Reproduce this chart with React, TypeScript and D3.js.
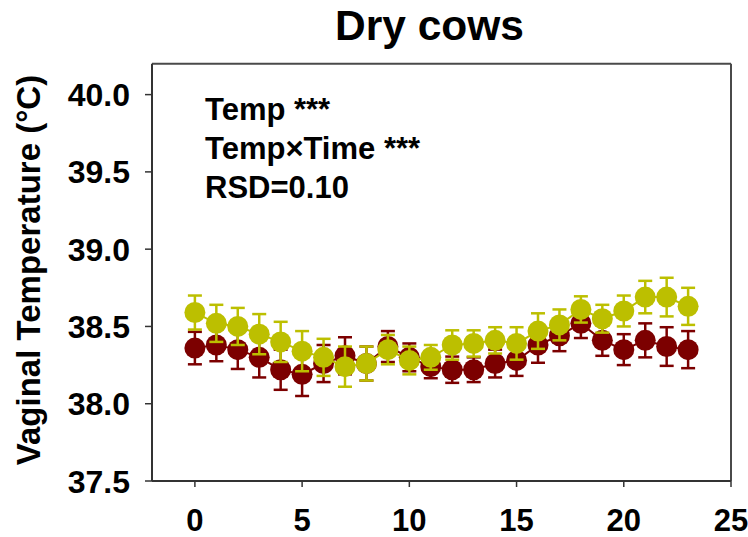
import React from "react";
import * as d3 from "d3";

// Hour of day
const hours = d3.range(0, 24);

// Vaginal temperature means (°C) and standard errors per hour
const hotMeans = [38.59, 38.52, 38.50, 38.45, 38.40, 38.34, 38.30, 38.24, 38.26, 38.35, 38.28, 38.30,
  38.38, 38.39, 38.41, 38.39, 38.47, 38.51, 38.61, 38.55, 38.60, 38.69, 38.69, 38.63];
const hotSE = [0.11, 0.12, 0.12, 0.13, 0.13, 0.13, 0.12, 0.13, 0.11, 0.095, 0.09, 0.08,
  0.095, 0.085, 0.085, 0.105, 0.115, 0.1, 0.085, 0.09, 0.1, 0.105, 0.125, 0.12];

const coolMeans = [38.36, 38.38, 38.35, 38.30, 38.22, 38.19, 38.26, 38.31, 38.26, 38.37, 38.30, 38.24,
  38.22, 38.22, 38.26, 38.28, 38.38, 38.44, 38.52, 38.41, 38.35, 38.41, 38.37, 38.35];
const coolSE = [0.105, 0.105, 0.125, 0.13, 0.13, 0.14, 0.12, 0.12, 0.11, 0.1, 0.09, 0.075,
  0.085, 0.08, 0.09, 0.1, 0.115, 0.1, 0.095, 0.1, 0.1, 0.11, 0.125, 0.12];

const xTicks = [0, 5, 10, 15, 20, 25];
const yTicks = [37.5, 38.0, 38.5, 39.0, 39.5, 40.0];
const statLines = ["Temp ***", "Temp×Time ***", "RSD=0.10"];

const W = 748;
const H = 537;
const FONT = "'Liberation Sans', Arial, Helvetica, sans-serif";

const x = d3.scaleLinear().domain([-2, 25]).range([152, 731]);
const y = d3.scaleLinear().domain([37.5, 40.2]).range([481, 63.7]);

type SeriesProps = { means: number[]; se: number[]; color: string };

function Series({ means, se, color }: SeriesProps) {
  const pts = hours.map((h, i) => ({ h, m: means[i], e: se[i] }));
  const line = d3
    .line<{ h: number; m: number }>()
    .x((d) => x(d.h))
    .y((d) => y(d.m));
  const cap = 7;
  return (
    <g>
      <path d={line(pts) ?? ""} fill="none" stroke={color} strokeWidth={2} />
      {pts.map((d) => {
        const cx = x(d.h);
        const top = y(d.m + d.e);
        const bot = y(d.m - d.e);
        return (
          <g key={d.h} stroke={color} strokeWidth={2.5}>
            <line x1={cx} x2={cx} y1={top} y2={bot} />
            <line x1={cx - cap} x2={cx + cap} y1={top} y2={top} />
            <line x1={cx - cap} x2={cx + cap} y1={bot} y2={bot} />
          </g>
        );
      })}
      {pts.map((d) => (
        <circle key={d.h} cx={x(d.h)} cy={y(d.m)} r={10.5} fill={color} />
      ))}
    </g>
  );
}

export default function App() {
  const [x0, x1] = x.range();
  const [yb, yt] = y.range();
  return (
    <svg
      width={W}
      height={H}
      viewBox={`0 0 ${W} ${H}`}
      style={{ position: "absolute", left: 0, top: 0, background: "#fff" }}
      fontFamily={FONT}
      fontWeight="bold"
    >
      <rect width={W} height={H} fill="#fff" />

      <text x={429.5} y={40} fontSize={42.5} textAnchor="middle" fill="#000">
        Dry cows
      </text>

      {/* frame */}
      <line x1={x0} x2={x1} y1={yt} y2={yt} stroke="#4a4a4a" strokeWidth={2} />
      <line x1={x1} x2={x1} y1={yt} y2={yb} stroke="#4a4a4a" strokeWidth={2} />

      {/* y axis */}
      <line x1={x0} x2={x0} y1={yt} y2={yb} stroke="#333" strokeWidth={2} />
      {yTicks.map((t) => (
        <g key={t}>
          <line x1={x0 - 7} x2={x0} y1={y(t)} y2={y(t)} stroke="#333" strokeWidth={1.5} />
          <text x={130} y={y(t)} dy="0.36em" fontSize={32} textAnchor="end" fill="#000">
            {t.toFixed(1)}
          </text>
        </g>
      ))}
      <text
        transform={`translate(40,270) rotate(-90)`}
        fontSize={33}
        textAnchor="middle"
        fill="#000"
      >
        Vaginal Temperature (°C)
      </text>

      {/* x axis */}
      <line x1={x0} x2={x1} y1={yb} y2={yb} stroke="#333" strokeWidth={2} />
      {xTicks.map((t) => (
        <g key={t}>
          <line x1={x(t)} x2={x(t)} y1={yb} y2={yb + 6} stroke="#333" strokeWidth={1.5} />
          <text x={x(t)} y={531} fontSize={31} textAnchor="middle" fill="#000">
            {t}
          </text>
        </g>
      ))}

      <Series means={coolMeans} se={coolSE} color="#7c0000" />
      <Series means={hotMeans} se={hotSE} color="#bcbf00" />

      {statLines.map((s, i) => (
        <text key={s} x={205} y={120 + i * 39} fontSize={31} fill="#000">
          {s}
        </text>
      ))}
    </svg>
  );
}
